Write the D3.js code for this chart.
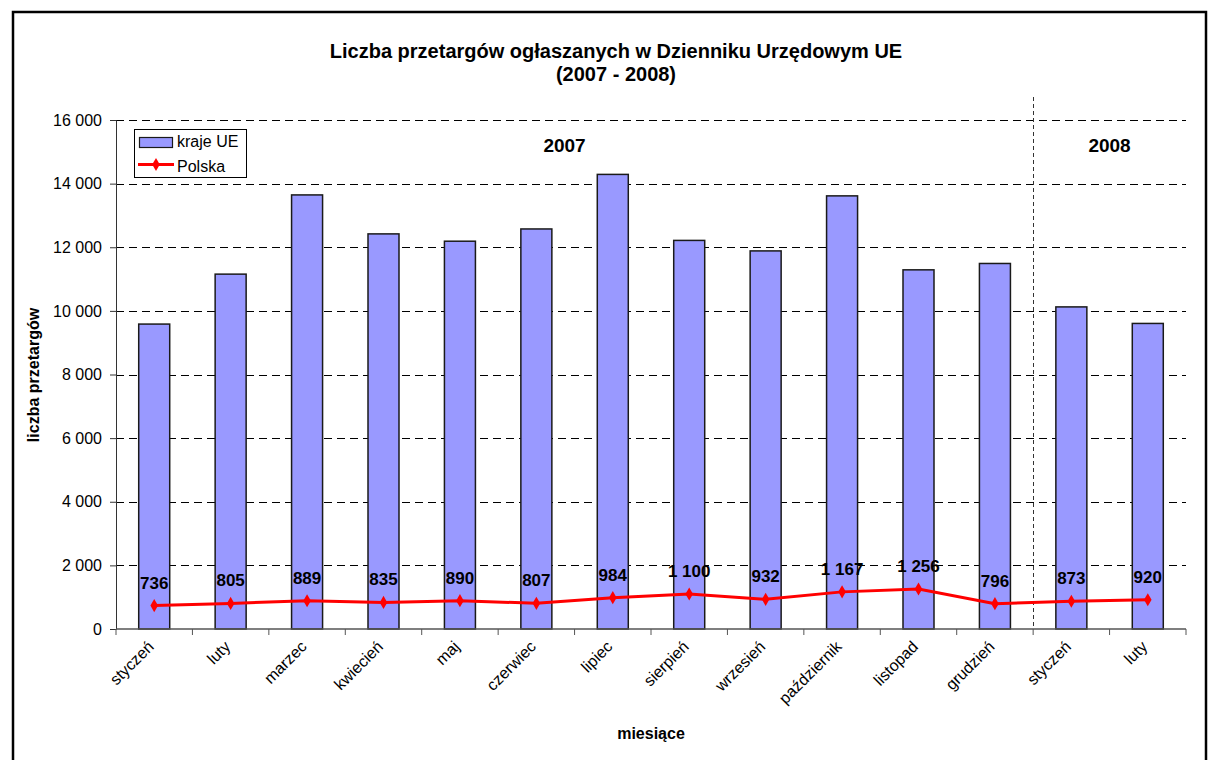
<!DOCTYPE html>
<html><head><meta charset="utf-8">
<script src="https://cdn.jsdelivr.net/npm/d3@7"></script>
<style>body{margin:0;background:#fff;}svg{display:block;font-family:Arial,"Liberation Sans",sans-serif;}</style>
</head><body>
<svg id="c" width="1210" height="760"></svg>
<script>
const months = ["styczeń","luty","marzec","kwiecień","maj","czerwiec","lipiec","sierpień","wrzesień","październik","listopad","grudzień","styczeń","luty"];
const krajeUE = [9585,11155,13645,12420,12190,12575,14290,12215,11885,13615,11290,11490,10125,9605];
const polska = [736,805,889,835,890,807,984,1100,932,1167,1256,796,873,920];
const yTicks = [0,2000,4000,6000,8000,10000,12000,14000,16000];
const years = [{label:"2007", from:0, to:12},{label:"2008", from:12, to:14}];

const svg = d3.select("#c");
const m = {l:116, r:1186, t:120, b:629};
const fmt = v => d3.format(",")(v).replace(/,/g, " ");
const FF = "Arial, 'Liberation Sans', sans-serif";

// outer frame
svg.append("rect").attr("x",13).attr("y",12).attr("width",1193).attr("height",760).attr("fill","none").attr("stroke","#000").attr("stroke-width",2.5);

const x = d3.scaleBand().domain(d3.range(months.length)).range([m.l, m.r]).paddingInner(0).paddingOuter(0);
const y = d3.scaleLinear().domain([0,16000]).range([m.b, m.t]);

// gridlines
svg.append("g").selectAll("line").data(yTicks.filter(d=>d>0)).join("line")
  .attr("x1",m.l).attr("x2",m.r).attr("y1",d=>Math.round(y(d))+0.5).attr("y2",d=>Math.round(y(d))+0.5)
  .attr("stroke","#000").attr("stroke-width",1).attr("stroke-dasharray","8,5");

// year separator
const sepX = Math.round(x(12))+0.5;
svg.append("line").attr("x1",sepX).attr("x2",sepX).attr("y1",97).attr("y2",m.b)
  .attr("stroke","#333").attr("stroke-width",1).attr("stroke-dasharray","4,3");

// bars
const bw = 31;
svg.append("g").selectAll("rect").data(krajeUE).join("rect")
  .attr("x",(d,i)=>x(i)+x.bandwidth()/2-bw/2).attr("width",bw)
  .attr("y",d=>y(d)).attr("height",d=>y(0)-y(d))
  .attr("fill","#9999ff").attr("stroke","#1a1a1a").attr("stroke-width",1.5);

// y axis
const ya = svg.append("g").attr("transform",`translate(${m.l},0)`)
  .call(d3.axisLeft(y).tickValues(yTicks).tickSize(6).tickPadding(8).tickFormat(fmt));
ya.select(".domain").attr("stroke","#333");
ya.selectAll(".tick line").attr("stroke","#333");
ya.selectAll("text").attr("font-size",16).attr("fill","#000").attr("font-family",FF);

// x axis
const xa = svg.append("g").attr("transform",`translate(0,${m.b})`);
xa.append("line").attr("x1",m.l).attr("x2",m.r).attr("stroke","#555").attr("stroke-width",1.5);
xa.selectAll("line.tk").data(d3.range(months.length+1)).join("line").attr("class","tk")
  .attr("x1",i=>m.l+i*x.bandwidth()).attr("x2",i=>m.l+i*x.bandwidth()).attr("y1",0).attr("y2",6)
  .attr("stroke","#555");
xa.selectAll("text").data(months).join("text")
  .attr("transform",(d,i)=>`translate(${x(i)+x.bandwidth()/2-5},${13}) rotate(-45)`)
  .attr("text-anchor","end").attr("font-size",16).attr("dy","0.5em").text(d=>d);

// Polska line
const cx = i => x(i)+x.bandwidth()/2;
svg.append("path").datum(polska)
  .attr("d", d3.line().x((d,i)=>cx(i)).y(d=>y(d)))
  .attr("fill","none").attr("stroke","#ff0000").attr("stroke-width",3);
svg.append("g").selectAll("path").data(polska).join("path")
  .attr("transform",(d,i)=>`translate(${cx(i)},${y(d)})`)
  .attr("d", d3.symbol(d3.symbolDiamond, 50)).attr("fill","#ff0000");
svg.append("g").selectAll("text").data(polska).join("text")
  .attr("x",(d,i)=>cx(i)).attr("y",d=>y(d)-17)
  .attr("text-anchor","middle").attr("font-size",17).attr("font-weight","bold").text(d=>fmt(d));

// year labels
svg.selectAll("text.yr").data(years).join("text").attr("class","yr")
  .attr("x",d=>(x(d.from)+ (d.to<months.length? x(d.to): m.r))/2 + (d.from===0?-10:0)).attr("y",152)
  .attr("text-anchor","middle").attr("font-size",19).attr("font-weight","bold").text(d=>d.label);

// titles
svg.append("text").attr("x",616).attr("y",58).attr("text-anchor","middle").attr("font-size",20).attr("font-weight","bold")
  .text("Liczba przetargów ogłaszanych w Dzienniku Urzędowym UE");
svg.append("text").attr("x",616).attr("y",81).attr("text-anchor","middle").attr("font-size",20).attr("font-weight","bold")
  .text("(2007 - 2008)");
svg.append("text").attr("transform","translate(39,375) rotate(-90)").attr("text-anchor","middle").attr("font-size",16).attr("font-weight","bold")
  .text("liczba przetargów");
svg.append("text").attr("x",651).attr("y",739).attr("text-anchor","middle").attr("font-size",16).attr("font-weight","bold")
  .text("miesiące");

// legend
const lg = svg.append("g");
lg.append("rect").attr("x",134.5).attr("y",129.5).attr("width",112).attr("height",48).attr("fill","#fff").attr("stroke","#000").attr("stroke-width",1);
lg.append("rect").attr("x",139.5).attr("y",137.5).attr("width",33).attr("height",10).attr("fill","#9999ff").attr("stroke","#1a1a1a").attr("stroke-width",1.2);
lg.append("text").attr("x",177).attr("y",147).attr("font-size",16).text("kraje UE");
lg.append("line").attr("x1",138).attr("x2",174).attr("y1",164.5).attr("y2",164.5).attr("stroke","#ff0000").attr("stroke-width",3);
lg.append("path").attr("transform","translate(156,164.5)").attr("d",d3.symbol(d3.symbolDiamond,50)).attr("fill","#ff0000");
lg.append("text").attr("x",177).attr("y",172).attr("font-size",16).text("Polska");
</script>
</body></html>
